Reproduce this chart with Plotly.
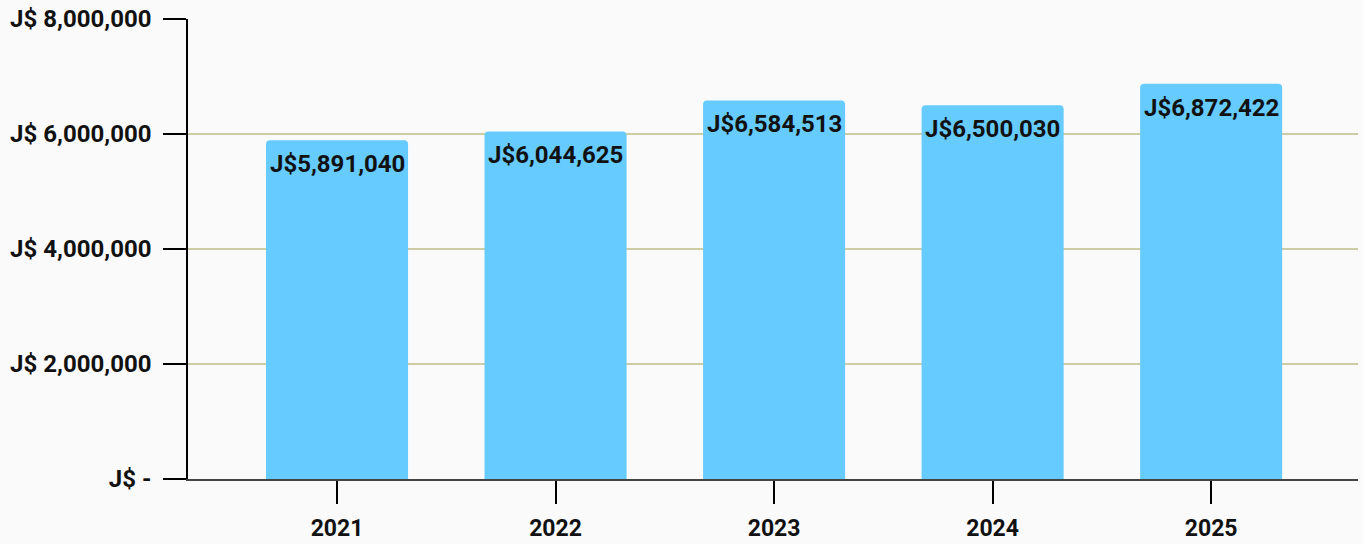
import plotly.graph_objects as go

years = ["2021", "2022", "2023", "2024", "2025"]
values = [5891040, 6044625, 6584513, 6500030, 6872422]
value_labels = ["J$5,891,040", "J$6,044,625", "J$6,584,513", "J$6,500,030", "J$6,872,422"]
y_tickvals = [0, 2000000, 4000000, 6000000, 8000000]
y_ticktext = ["J$ -", "J$ 2,000,000", "J$ 4,000,000", "J$ 6,000,000", "J$ 8,000,000"]

font_family = "Roboto"

fig = go.Figure()
fig.add_trace(go.Bar(
    x=list(range(len(years))),
    y=values,
    width=0.65,
    marker=dict(color="#66CBFE", line=dict(width=0), cornerradius=4),
    hoverinfo="skip",
))

for i, (v, t) in enumerate(zip(values, value_labels)):
    fig.add_annotation(
        x=i, y=v, text="<b>%s</b>" % t, showarrow=False,
        yanchor="middle", yshift=-24,
        font=dict(family=font_family, size=24, color="#111111"),
    )

fig.update_layout(
    width=1363, height=544,
    margin=dict(l=188, r=5, t=19, b=65, autoexpand=False),
    paper_bgcolor="#FAFAFA",
    plot_bgcolor="#FAFAFA",
    showlegend=False,
    font=dict(family=font_family, size=24, color="#111111"),
    bargap=0.35,
)

fig.update_xaxes(
    range=[-0.682, 4.672],
    tickvals=list(range(len(years))),
    ticktext=["<b>%s</b>" % y for y in years],
    ticks="outside", ticklen=23, tickwidth=1.5, tickcolor="#000000",
    showline=True, linecolor="#444444", linewidth=1.5,
    showgrid=False, zeroline=False, automargin=False,
    ticklabelstandoff=5,
    tickfont=dict(family=font_family, size=23, color="#111111"),
)

fig.update_yaxes(
    range=[0, 8000000],
    tickvals=y_tickvals,
    ticktext=["<b>%s</b>" % t for t in y_ticktext],
    ticks="outside", ticklen=23, tickwidth=1.5, tickcolor="#000000",
    showline=True, linecolor="#000000", linewidth=1.5,
    showgrid=True, gridcolor="#CDCDA5", gridwidth=2,
    zeroline=False, automargin=False,
    ticklabelstandoff=7,
    tickfont=dict(family=font_family, size=24, color="#111111"),
)

fig.write_html(
    "out.html",
    config={"displayModeBar": False},
    post_script="document.body.style.margin='0';document.body.style.overflow='hidden';document.body.style.background='#FAFAFA';",
)
